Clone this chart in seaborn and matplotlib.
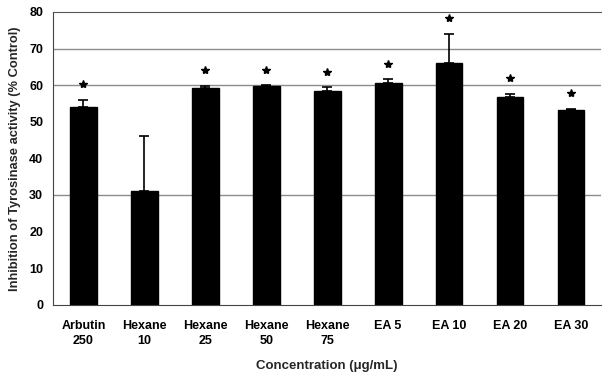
import pandas as pd
import matplotlib.pyplot as plt
import seaborn as sns

# === DATA ===
samples = ['Arbutin\n250', 'Hexane\n10', 'Hexane\n25', 'Hexane\n50', 'Hexane\n75',
           'EA 5', 'EA 10', 'EA 20', 'EA 30']
inhibition = [54.0, 31.2, 59.2, 59.7, 58.3, 60.7, 66.1, 56.8, 53.1]
sd = [2.0, 15.0, 0.7, 0.3, 1.1, 1.0, 8.0, 0.9, 0.5]
significant = [True, False, True, True, True, True, True, True, True]

df = pd.DataFrame({'Sample': samples, 'Inhibition': inhibition, 'SD': sd,
                   'Sig': significant})

# === PLOT ===
sns.set_style('white')
plt.rcParams['font.family'] = ['Liberation Sans', 'DejaVu Sans']

fig = plt.figure(figsize=(6.02, 3.74), dpi=100)
ax = fig.add_axes([0.088, 0.185, 0.911, 0.783])

for v in [30, 60, 70]:
    ax.axhline(v, color='#8c8c8c', linewidth=1.0, zorder=0)

sns.barplot(data=df, x='Sample', y='Inhibition', color='black',
            width=0.44, edgecolor='black', linewidth=1, saturation=1, ax=ax, zorder=2)

x = range(len(df))
ax.errorbar(x, df['Inhibition'], yerr=[[0] * len(df), df['SD']], fmt='none',
            ecolor='black', elinewidth=1.2, capsize=3.5, capthick=1.2, zorder=3)

# asterisks above significant bars
sig = df[df['Sig']]
ax.plot(sig.index, sig['Inhibition'] + sig['SD'] + 4.2, linestyle='none',
        marker='*', markersize=6, color='black', zorder=4)

ax.set_xlim(-0.5, len(df) - 0.5)
ax.set_ylim(0, 80)
ax.set_yticks(range(0, 81, 10))
ax.set_xticks([i + 0.5 for i in range(len(df) - 1)], minor=True)
ax.tick_params(axis='x', which='major', length=0, pad=11)
ax.tick_params(axis='x', which='minor', direction='in', length=3, color='#555555')
ax.tick_params(axis='y', direction='in', length=3, color='#555555', pad=7)
for lbl in ax.get_xticklabels() + ax.get_yticklabels():
    lbl.set_fontweight('bold')
    lbl.set_fontsize(9)
    lbl.set_color('black')
for lbl in ax.get_xticklabels():
    lbl.set_linespacing(1.35)

ax.set_xlabel('Concentration (μg/mL)', fontsize=9.5, fontweight='bold', labelpad=9)
ax.set_ylabel('Inhibition of Tyrosinase activity (% Control)', fontsize=9.3,
              fontweight='bold', labelpad=6)

ax.spines['right'].set_visible(False)
ax.spines['top'].set_color('#555555')
ax.spines['left'].set_color('#444444')
ax.spines['bottom'].set_color('#444444')

plt.savefig('out.png', dpi=100)
